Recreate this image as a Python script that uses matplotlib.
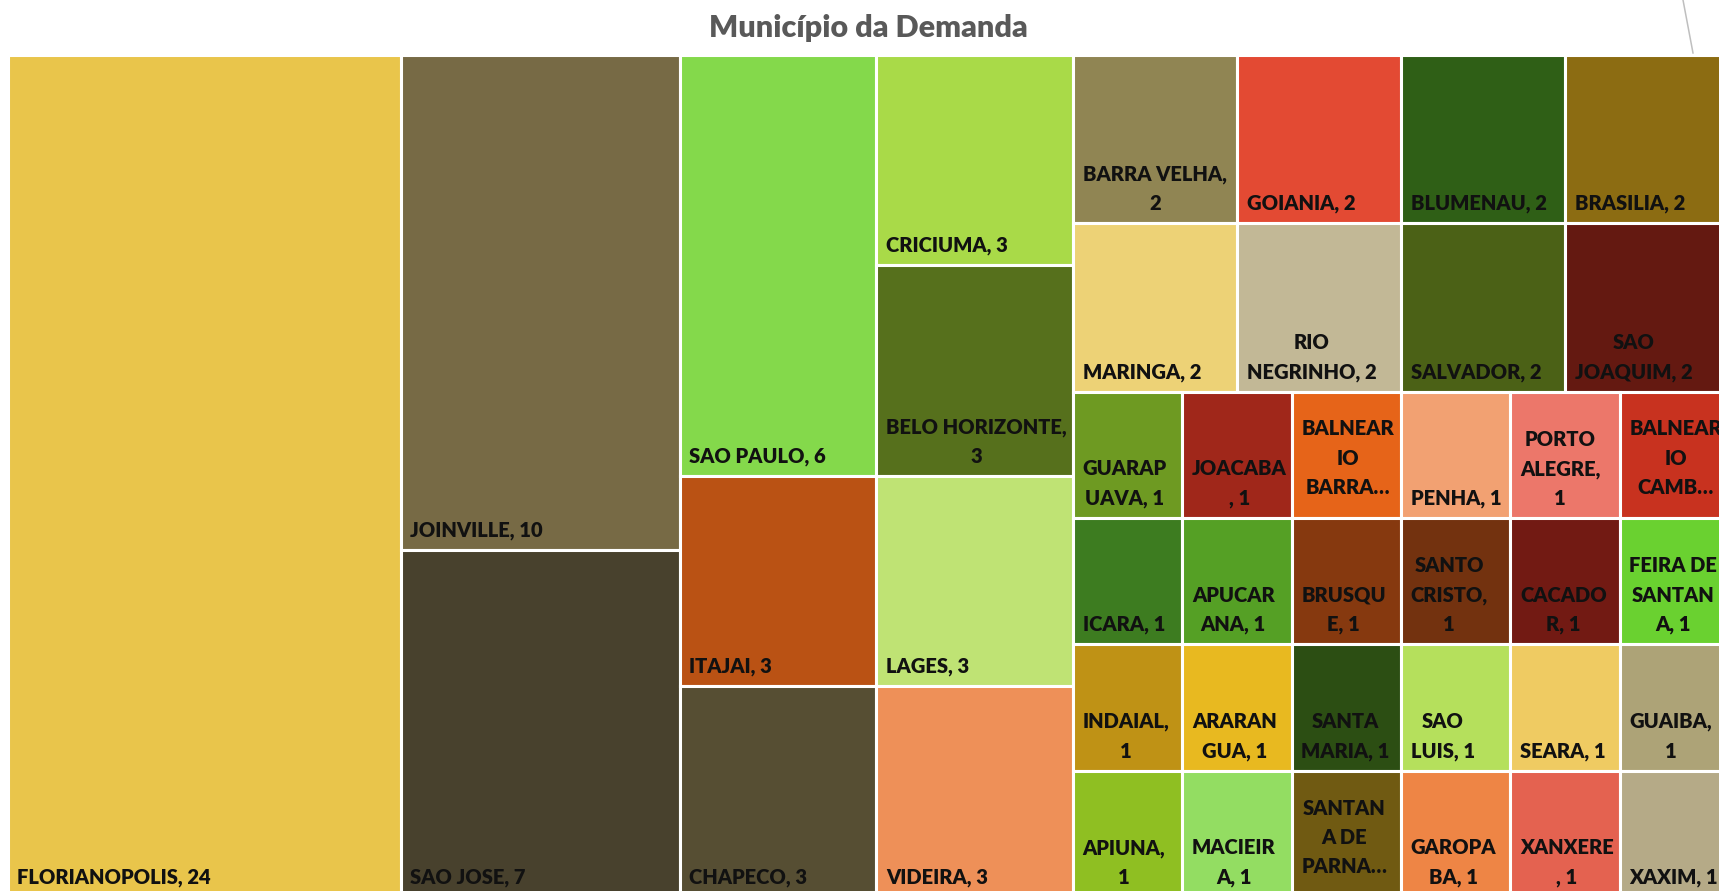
import matplotlib
matplotlib.use("Agg")
import matplotlib.pyplot as plt
from matplotlib.patches import Rectangle

# ---------------- data ----------------
title = "Município da Demanda"

labels = [
    "FLORIANOPOLIS, 24", "JOINVILLE, 10", "SAO JOSE, 7", "SAO PAULO, 6",
    "ITAJAI, 3", "CHAPECO, 3", "CRICIUMA, 3", "BELO HORIZONTE,\n3", "LAGES, 3", "VIDEIRA, 3",
    "BARRA VELHA,\n2", "GOIANIA, 2", "BLUMENAU, 2", "BRASILIA, 2",
    "MARINGA, 2", "RIO\nNEGRINHO, 2", "SALVADOR, 2", "SAO\nJOAQUIM, 2",
    "GUARAP\nUAVA, 1", "ICARA, 1", "INDAIAL,\n1", "APIUNA,\n1",
    "JOACABA\n, 1", "APUCAR\nANA, 1", "ARARAN\nGUA, 1", "MACIEIR\nA, 1",
    "BALNEAR\nIO\nBARRA…", "PENHA, 1", "PORTO\nALEGRE,\n1", "BALNEAR\nIO\nCAMB…",
    "BRUSQU\nE, 1", "SANTA\nMARIA, 1", "SANTAN\nA DE\nPARNA…",
    "SANTO\nCRISTO,\n1", "CACADO\nR, 1", "FEIRA DE\nSANTAN\nA, 1",
    "SAO\nLUIS, 1", "GAROPA\nBA, 1",
    "SEARA, 1", "GUAIBA,\n1",
    "XANXERE\n, 1", "XAXIM, 1",
]

values = [
    24, 10, 7, 6,
    3, 3, 3, 3, 3, 3,
    2, 2, 2, 2,
    2, 2, 2, 2,
    1, 1, 1, 1,
    1, 1, 1, 1,
    1, 1, 1, 1,
    1, 1, 1,
    1, 1, 1,
    1, 1,
    1, 1,
    1, 1,
]

colors = [
    "#E9C54B", "#776A45", "#48412D", "#84D94B",
    "#BA5214", "#564E33", "#A9DA48", "#56701C", "#BFE374", "#EE9058",
    "#908553", "#E34A33", "#2F5F16", "#8C6C12",
    "#EDD276", "#C2B896", "#4B6116", "#641911",
    "#6E9A22", "#3D7C20", "#BF9215", "#8FBF22",
    "#A0271A", "#55A025", "#E8B920", "#93DD62",
    "#E66419", "#F2A172", "#EC776A", "#C8321F",
    "#86390F", "#2C4E13", "#705A12",
    "#73320F", "#721A13", "#6AD130",
    "#B5E05C", "#EE8545",
    "#EFCB62", "#ADA377",
    "#E46250", "#B5AA87",
]

# ---------------- layout ----------------
W_PX, H_PX = 1719, 891
BOX = (7.5, 54.5, 1729.0 - 7.5, 897.0 - 54.5)   # x, y, w, h (pixel space, y down)
GAP_PT = 2.2
PAD_X, PAD_Y = 9.5, 10.0
ELLIPSIS_LIFT = 11.0
FONT = ["Lato", "DejaVu Sans"]


def treemap(vals, x, y, w, h):
    """Squarified-style layout: strip grows while the newest cell's aspect improves."""
    scale = w * h / float(sum(vals))
    rects = []
    i = 0
    n = len(vals)
    while i < n:
        vertical = w >= h
        side = h if vertical else w

        def last_aspect(row):
            thick = sum(row) * scale / side
            length = row[-1] * scale / thick
            return max(thick / length, length / thick)

        row = [vals[i]]
        best = last_aspect(row)
        j = i + 1
        while j < n:
            cand = row + [vals[j]]
            a = last_aspect(cand)
            if a > best:
                break
            row, best = cand, a
            j += 1
        thick = sum(row) * scale / side
        pos = y if vertical else x
        for v in row:
            length = v * scale / thick
            if vertical:
                rects.append((x, pos, thick, length))
            else:
                rects.append((pos, y, length, thick))
            pos += length
        if vertical:
            x += thick
            w -= thick
        else:
            y += thick
            h -= thick
        i = j
    return rects


order = sorted(range(len(values)), key=lambda k: -values[k])
rects = treemap([values[k] for k in order], *BOX)

fig = plt.figure(figsize=(W_PX / 100, H_PX / 100), dpi=100)
ax = fig.add_axes([0, 0, 1, 1])
ax.set_xlim(0, W_PX)
ax.set_ylim(H_PX, 0)
ax.axis("off")

for k, (rx, ry, rw, rh) in zip(order, rects):
    patch = Rectangle((rx, ry), rw, rh, facecolor=colors[k], edgecolor="white",
                      linewidth=GAP_PT, zorder=1)
    ax.add_patch(patch)
    lift = ELLIPSIS_LIFT if labels[k].endswith("…") else 0.0
    t = ax.text(rx + PAD_X, ry + rh - PAD_Y - lift, labels[k],
                ha="left", va="bottom", multialignment="center",
                fontsize=14.5, fontweight="heavy", color="#111111",
                family=FONT, linespacing=1.64, zorder=2)
    t.set_clip_path(patch)

ax.text(868, 37.5, title, ha="center", va="baseline", fontsize=22,
        fontweight="heavy", color="#595959", family=FONT)

# thin border line visible at the top right of the source picture
ax.plot([1683, 1693], [0, 53], color="#BFBFBF", linewidth=1.1, zorder=0)

fig.savefig("out.png", dpi=100, facecolor="white")
